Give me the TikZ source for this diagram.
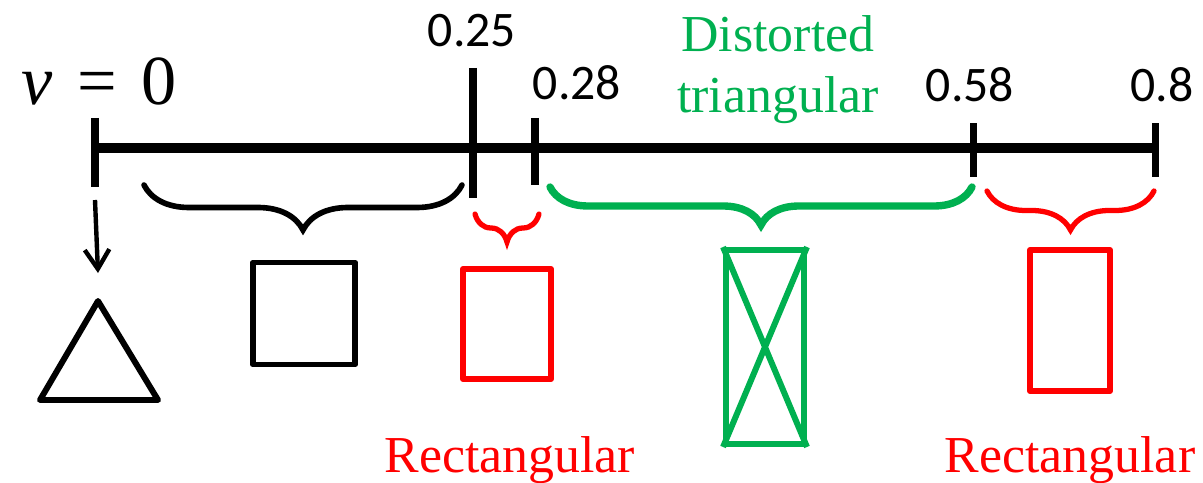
\documentclass[tikz,border=0pt]{standalone}
\usepackage{fontspec}
\setmainfont{Liberation Serif}
\setsansfont{Carlito}
\usepackage{tikz}
\usetikzlibrary{positioning,arrows.meta,decorations.pathreplacing}
\usepackage{xcolor}
\definecolor{phgreen}{RGB}{0,176,80}
\definecolor{phred}{RGB}{255,0,0}

\begin{document}
\begin{tikzpicture}[x=0.02cm,y=-0.02cm,
  numlab/.style={font=\sffamily\fontsize{28.3}{34}\selectfont,inner sep=0pt,anchor=base},
  phaselab/.style={font=\rmfamily\fontsize{29.5}{34.6}\selectfont,inner sep=0pt,align=center},
  axtick/.style={line width=4pt},
  cell/.style={draw,line width=3.4pt,line join=round,inner sep=0pt},
  brc/.style={decorate,decoration={brace,mirror,amplitude=#1},line cap=round}]
\useasboundingbox (0,0) rectangle (1203,483);
% axis with ticks
\foreach \name/\x/\top/\bot in {v0/95/118/187,v25/473/68/198,v28/535/118/185,v58/973/123/177,v8/1155/123/177}{
  \coordinate (\name) at (\x,148);
  \draw[axtick] (\x,\top) -- (\x,\bot);
}
\draw[line width=5.7pt] (v0) -- (1157,148);
\node[inner sep=0pt,anchor=base,font=\rmfamily\fontsize{40}{42}\selectfont] (nu) at (99,105) {\textit{ν}\hspace{0.35em}=\hspace{0.35em}0};
\node[numlab] (l25) at (472,47) {0.25};
\node[numlab] (l28) at (577,100) {0.28};
\node[numlab] (l58) at (970,102) {0.58};
\node[numlab] (l8) at (1162,102) {0.8};
\node[phaselab,text=phgreen] (dist) at (778,70) {Distorted\\triangular};
\node[phaselab,text=phred,anchor=base] (rect1) at (510,472) {Rectangular};
\node[phaselab,text=phred,anchor=base] (rect2) at (1070,472) {Rectangular};
% braces under the axis
\draw[brc=0.9cm,line width=3.2pt] (144,185) -- (462,185);
\draw[brc=0.56cm,line width=3pt,phred] (475,214) -- (539,214);
\draw[brc=0.76cm,line width=4.2pt,phgreen] (550,187) -- (972,187);
\draw[brc=0.78cm,line width=3pt,phred] (987,191) -- (1154,191);
% unit cells
\coordinate (apex) at (98,301);
\draw[line width=3.4pt,line join=round] (apex) -- (158,400) -- (40,400) -- cycle;
\coordinate (arrtop) at (95,200);
\draw[line width=2.5pt,-{Straight Barb[length=11pt,width=14pt]}] (arrtop) -- ([yshift=0.56cm]apex);
\node[cell,minimum width=2.04cm,minimum height=2.04cm] (sq) at (304,313.5) {};
\node[cell,phred,minimum width=1.76cm,minimum height=2.2cm] (rc1) at (507,324) {};
\node[cell,phgreen,minimum width=1.56cm,minimum height=3.88cm] (dt) at (765,347) {};
\draw[line width=3.4pt,phgreen] (dt.north west) -- (dt.south east) (dt.north east) -- (dt.south west);
\node[cell,phred,minimum width=1.6cm,minimum height=2.82cm] (rc2) at (1070,320.5) {};
\end{tikzpicture}
\end{document}
